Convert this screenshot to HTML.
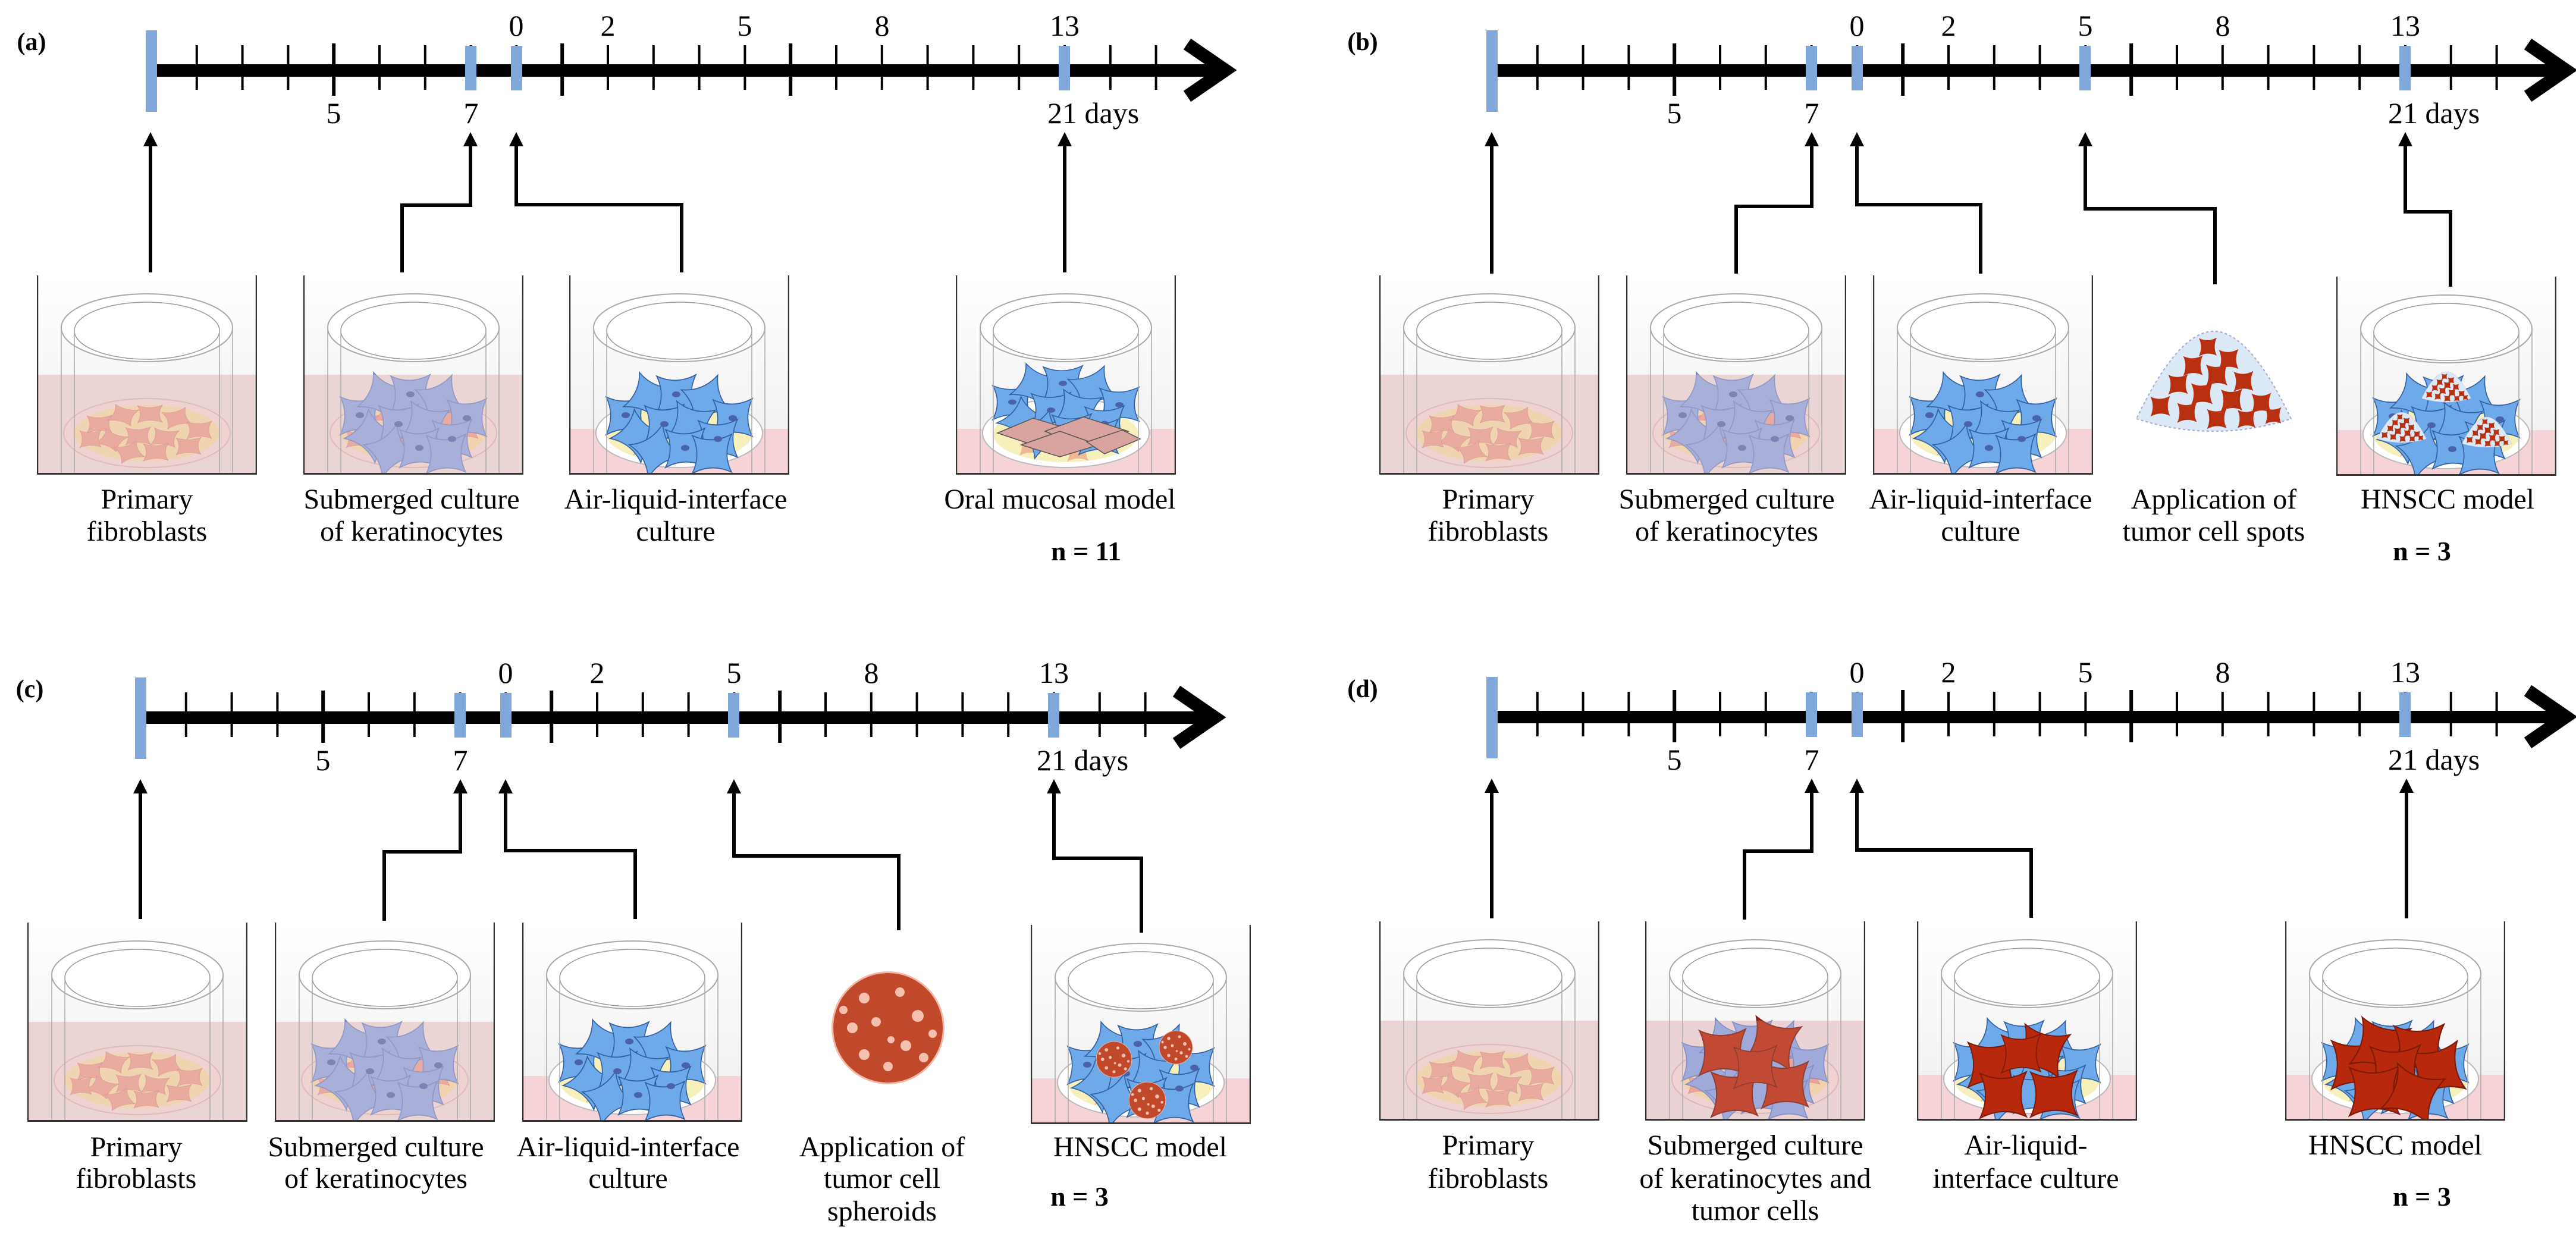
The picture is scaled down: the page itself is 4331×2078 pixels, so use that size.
<!DOCTYPE html>
<html><head><meta charset="utf-8">
<style>
html,body{margin:0;padding:0;background:#fff;}
svg{display:block;}
text{font-family:"Liberation Serif",serif;fill:#000;}
.d{font-size:50px;}
.l{font-size:48px;text-anchor:middle;}
.n{font-size:46px;font-weight:bold;text-anchor:middle;}
.p{font-size:42px;font-weight:bold;text-anchor:middle;}
</style></head>
<body>
<svg width="4331" height="2078" viewBox="0 0 4331 2078" xmlns="http://www.w3.org/2000/svg" xmlns:xlink="http://www.w3.org/1999/xlink" font-family="Liberation Serif, serif">
<defs>
<linearGradient id="bg" x1="0" y1="0" x2="0" y2="1">
<stop offset="0" stop-color="#ffffff"/><stop offset="1" stop-color="#eeeeee"/>
</linearGradient>
<path id="k" d="M-30,-28 Q0,-14 30,-30 Q16,0 30,28 Q0,14 -30,30 Q-16,0 -30,-28 Z"/>
<path id="tri" d="M0,0 L12,24 L-12,24 Z"/>

<g id="tl">
<rect x="0" y="-10" width="1790" height="21" fill="#000"/>
<polyline points="1742,-44 1806,0 1742,44" fill="none" stroke="#000" stroke-width="22" stroke-linejoin="miter"/>
<g stroke="#000" stroke-width="4">
<line x1="76.8" y1="-42" x2="76.8" y2="33"/><line x1="153.6" y1="-42" x2="153.6" y2="33"/><line x1="230.4" y1="-42" x2="230.4" y2="33"/>
<line x1="384" y1="-42" x2="384" y2="33"/><line x1="460.8" y1="-42" x2="460.8" y2="33"/><line x1="537.6" y1="-42" x2="537.6" y2="33"/><line x1="614.4" y1="-42" x2="614.4" y2="33"/>
<line x1="768" y1="-42" x2="768" y2="33"/><line x1="844.8" y1="-42" x2="844.8" y2="33"/><line x1="921.6" y1="-42" x2="921.6" y2="33"/><line x1="998.4" y1="-42" x2="998.4" y2="33"/>
<line x1="1152" y1="-42" x2="1152" y2="33"/><line x1="1228.8" y1="-42" x2="1228.8" y2="33"/><line x1="1305.6" y1="-42" x2="1305.6" y2="33"/><line x1="1382.4" y1="-42" x2="1382.4" y2="33"/><line x1="1459.2" y1="-42" x2="1459.2" y2="33"/><line x1="1536" y1="-42" x2="1536" y2="33"/><line x1="1612.8" y1="-42" x2="1612.8" y2="33"/><line x1="1689.6" y1="-42" x2="1689.6" y2="33"/>
</g>
<g stroke="#000" stroke-width="6">
<line x1="307.2" y1="-45" x2="307.2" y2="43"/><line x1="691.2" y1="-45" x2="691.2" y2="43"/><line x1="1075.2" y1="-45" x2="1075.2" y2="43"/>
</g>
<rect x="-9" y="-67" width="19" height="137" fill="#7fa7d9"/>
<rect x="528" y="-41" width="19" height="75" fill="#7fa7d9"/>
<rect x="605" y="-41" width="19" height="75" fill="#7fa7d9"/>
<rect x="1526" y="-41" width="19" height="75" fill="#7fa7d9"/>
<text class="d" x="614" y="-58" text-anchor="middle">0</text>
<text class="d" x="768" y="-58" text-anchor="middle">2</text>
<text class="d" x="998" y="-58" text-anchor="middle">5</text>
<text class="d" x="1229" y="-58" text-anchor="middle">8</text>
<text class="d" x="1536" y="-58" text-anchor="middle">13</text>
<text class="d" x="307" y="89" text-anchor="middle">5</text>
<text class="d" x="538" y="89" text-anchor="middle">7</text>
<text class="d" x="1507" y="89">21 days</text>
</g>

<g id="frameBg"><rect x="0" y="0" width="370" height="335" fill="url(#bg)"/></g>
<g id="insTop">
<ellipse cx="185" cy="88" rx="144" ry="57" fill="#fff" stroke="#aaa" stroke-width="2"/>
<ellipse cx="185" cy="93" rx="122" ry="48" fill="#fff" stroke="#999" stroke-width="1.5"/>
</g>
<g id="insLines" stroke="#aaa" stroke-width="1.5">
<line x1="41" y1="88" x2="41" y2="335"/><line x1="63" y1="93" x2="63" y2="335"/>
<line x1="307" y1="93" x2="307" y2="335"/><line x1="329" y1="88" x2="329" y2="335"/>
</g>
<g id="frameLines" stroke="#333">
<line x1="1" y1="0" x2="1" y2="335" stroke-width="2.5"/>
<line x1="369" y1="0" x2="369" y2="335" stroke-width="2.5"/>
<line x1="0" y1="334" x2="370" y2="334" stroke-width="4"/>
</g>
<g id="fibLayer">
<ellipse cx="0" cy="0" rx="140" ry="58" fill="#f0d3d0" stroke="#d9b0b0" stroke-width="2"/>
<ellipse cx="0" cy="0" rx="122" ry="47" fill="#f3d39f"/>
<g fill="#e8998a" stroke="#c77" stroke-width="1">
<use href="#k" transform="translate(-80,-15) scale(.7,.5)"/><use href="#k" transform="translate(-40,-30) scale(.7,.5) rotate(20)"/>
<use href="#k" transform="translate(5,-32) scale(.7,.5)"/><use href="#k" transform="translate(50,-25) scale(.7,.5) rotate(-15)"/>
<use href="#k" transform="translate(88,-5) scale(.7,.5)"/><use href="#k" transform="translate(-60,12) scale(.7,.5) rotate(30)"/>
<use href="#k" transform="translate(-15,5) scale(.7,.5)"/><use href="#k" transform="translate(30,8) scale(.7,.5) rotate(10)"/>
<use href="#k" transform="translate(70,22) scale(.7,.5)"/><use href="#k" transform="translate(-30,32) scale(.7,.5) rotate(-20)"/>
<use href="#k" transform="translate(15,32) scale(.7,.5)"/><use href="#k" transform="translate(-95,10) scale(.6,.5)"/>
</g>
</g>
<g id="aliDish">
<ellipse cx="0" cy="0" rx="140" ry="58" fill="#fff" stroke="#bbb" stroke-width="2"/>
<ellipse cx="0" cy="2" rx="122" ry="47" fill="#f7f0bb"/>
<g fill="#efb896"><use href="#k" transform="translate(-60,20) scale(.6)"/><use href="#k" transform="translate(20,30) scale(.6)"/><use href="#k" transform="translate(70,10) scale(.6)"/></g>
</g>
<g id="kerSet">
<use href="#k" transform="translate(-90,-30) scale(1.1)"/><use href="#k" transform="translate(-50,-60) scale(1.1) rotate(25)"/>
<use href="#k" transform="translate(-5,-65) scale(1.1)"/><use href="#k" transform="translate(45,-55) scale(1.1) rotate(-20)"/>
<use href="#k" transform="translate(90,-25) scale(1.1)"/><use href="#k" transform="translate(-70,5) scale(1.1) rotate(40)"/>
<use href="#k" transform="translate(-25,-15) scale(1.1)"/><use href="#k" transform="translate(20,-15) scale(1.1) rotate(15)"/>
<use href="#k" transform="translate(65,10) scale(1.1)"/><use href="#k" transform="translate(-40,30) scale(1.1) rotate(-30)"/>
<use href="#k" transform="translate(10,25) scale(1.1)"/><use href="#k" transform="translate(55,35) scale(1.1)"/>
</g>
<g id="nuc" fill="#4a62a8" stroke="none">
<ellipse cx="-90" cy="-30" rx="7" ry="5"/><ellipse cx="-5" cy="-65" rx="7" ry="5"/><ellipse cx="90" cy="-25" rx="7" ry="5"/>
<ellipse cx="-25" cy="-15" rx="7" ry="5"/><ellipse cx="65" cy="10" rx="7" ry="5"/><ellipse cx="10" cy="25" rx="7" ry="5"/>
</g>
<g id="spot">
<path d="M-130,140 Q0,180 130,140 Q60,0 0,0 Q-60,0 -130,140 Z" fill="#dbe8f5" stroke="#aac" stroke-width="2" stroke-dasharray="4 4"/>
<g fill="#b8300f">
<use href="#k" transform="translate(-10,25) scale(.5)"/><use href="#k" transform="translate(25,45) scale(.55)"/><use href="#k" transform="translate(-35,55) scale(.55)"/>
<use href="#k" transform="translate(5,70) scale(.6)"/><use href="#k" transform="translate(50,80) scale(.55)"/><use href="#k" transform="translate(-60,85) scale(.55)"/>
<use href="#k" transform="translate(-20,100) scale(.6)"/><use href="#k" transform="translate(30,110) scale(.6)"/><use href="#k" transform="translate(80,115) scale(.55)"/>
<use href="#k" transform="translate(-90,120) scale(.55)"/><use href="#k" transform="translate(-45,130) scale(.55)"/><use href="#k" transform="translate(5,140) scale(.55)"/>
<use href="#k" transform="translate(55,140) scale(.5)"/><use href="#k" transform="translate(100,135) scale(.45)"/>
</g>
</g>
<g id="sph">
<circle cx="0" cy="0" r="95" fill="#f2b8a8"/>
<circle cx="0" cy="0" r="92" fill="#b93515" opacity=".85"/>
<g fill="#f5c0b0">
<circle cx="-40" cy="-50" r="9"/><circle cx="20" cy="-60" r="8"/><circle cx="50" cy="-20" r="10"/><circle cx="-60" cy="0" r="9"/>
<circle cx="-20" cy="-10" r="8"/><circle cx="30" cy="30" r="9"/><circle cx="-40" cy="45" r="9"/><circle cx="60" cy="50" r="8"/>
<circle cx="0" cy="65" r="8"/><circle cx="-75" cy="-30" r="7"/><circle cx="75" cy="10" r="7"/><circle cx="5" cy="20" r="6"/>
</g>
</g>

<symbol id="wFib" viewBox="0 0 370 335" width="370" height="335">
<use href="#frameBg"/><use href="#insTop"/>
<rect x="0" y="167" width="370" height="168" fill="#ebd4d5"/>
<use href="#fibLayer" transform="translate(185,265)"/>
<rect x="0" y="167" width="370" height="168" fill="#ebd4d5" opacity=".3"/>
<use href="#insLines"/><use href="#frameLines"/>
</symbol>
<symbol id="wSub" viewBox="0 0 370 335" width="370" height="335">
<use href="#frameBg"/><use href="#insTop"/>
<rect x="0" y="167" width="370" height="168" fill="#ebd4d5"/>
<use href="#fibLayer" transform="translate(185,265)"/>
<g fill="#8c9fdb" stroke="#6a7fc0" stroke-width="1.5"><use href="#kerSet" transform="translate(185,265)"/></g>
<use href="#nuc" transform="translate(185,265)"/>
<rect x="0" y="167" width="370" height="168" fill="#ebd4d5" opacity=".3"/>
<use href="#insLines"/><use href="#frameLines"/>
</symbol>
<symbol id="wAli" viewBox="0 0 370 335" width="370" height="335">
<use href="#frameBg"/>
<rect x="0" y="258" width="370" height="77" fill="#f5d3d7"/>
<use href="#insTop"/>
<use href="#aliDish" transform="translate(185,265)"/>
<g fill="#6ea9ea" stroke="#3060a0" stroke-width="1.5"><use href="#kerSet" transform="translate(185,265)"/></g>
<use href="#nuc" transform="translate(185,265)"/>
<use href="#insLines"/><use href="#frameLines"/>
</symbol>
<symbol id="wOral" viewBox="0 0 370 335" width="370" height="335">
<use href="#frameBg"/>
<rect x="0" y="258" width="370" height="77" fill="#f5d3d7"/>
<use href="#insTop"/>
<use href="#aliDish" transform="translate(185,265)"/>
<g fill="#6ea9ea" stroke="#3060a0" stroke-width="1.5"><use href="#kerSet" transform="translate(185,240) scale(1,.9)"/></g>
<use href="#nuc" transform="translate(185,240) scale(1,.9)"/>
<g fill="#d9a39f" stroke="#555" stroke-width="1.5">
<path d="M70,265 L130,240 L190,258 L130,285 Z"/><path d="M150,262 L215,238 L290,262 L215,290 Z"/><path d="M110,285 L175,262 L240,285 L175,305 Z"/><path d="M220,280 L280,260 L310,275 L250,300 Z"/>
</g>
<use href="#insLines"/><use href="#frameLines"/>
</symbol>
<symbol id="wHnB" viewBox="0 0 370 335" width="370" height="335">
<use href="#frameBg"/>
<rect x="0" y="258" width="370" height="77" fill="#f5d3d7"/>
<use href="#insTop"/>
<use href="#aliDish" transform="translate(185,265)"/>
<g fill="#6ea9ea" stroke="#3060a0" stroke-width="1.5"><use href="#kerSet" transform="translate(185,265)"/></g>
<use href="#nuc" transform="translate(185,265)"/>
<use href="#spot" transform="translate(185,160) scale(.32)"/>
<use href="#spot" transform="translate(110,228) scale(.32)"/>
<use href="#spot" transform="translate(253,236) scale(.32)"/>
<use href="#insLines"/><use href="#frameLines"/>
</symbol>
<symbol id="wHnC" viewBox="0 0 370 335" width="370" height="335">
<use href="#frameBg"/>
<rect x="0" y="258" width="370" height="77" fill="#f5d3d7"/>
<use href="#insTop"/>
<use href="#aliDish" transform="translate(185,265)"/>
<g fill="#6ea9ea" stroke="#3060a0" stroke-width="1.5"><use href="#kerSet" transform="translate(185,265)"/></g>
<use href="#nuc" transform="translate(185,265)"/>
<use href="#sph" transform="translate(140,226) scale(.32)"/>
<use href="#sph" transform="translate(244,206) scale(.3)"/>
<use href="#sph" transform="translate(196,295) scale(.33)"/>
<use href="#insLines"/><use href="#frameLines"/>
</symbol>
<symbol id="wSubD" viewBox="0 0 370 335" width="370" height="335">
<use href="#frameBg"/><use href="#insTop"/>
<rect x="0" y="167" width="370" height="168" fill="#ebd4d5"/>
<use href="#fibLayer" transform="translate(185,265)"/>
<g fill="#8c9fdb" stroke="#6a7fc0" stroke-width="1.5"><use href="#kerSet" transform="translate(185,265)"/></g>
<g fill="#b8280c" stroke="#7a1a08" stroke-width="1.5">
<use href="#k" transform="translate(130,220) scale(1.3)"/><use href="#k" transform="translate(215,205) scale(1.3) rotate(15)"/>
<use href="#k" transform="translate(150,290) scale(1.3)"/><use href="#k" transform="translate(235,275) scale(1.3)"/><use href="#k" transform="translate(185,245) scale(1.2)"/>
</g>
<rect x="0" y="167" width="370" height="168" fill="#ebd4d5" opacity=".2"/>
<use href="#insLines"/><use href="#frameLines"/>
</symbol>
<symbol id="wAliD" viewBox="0 0 370 335" width="370" height="335">
<use href="#frameBg"/>
<rect x="0" y="258" width="370" height="77" fill="#f5d3d7"/>
<use href="#insTop"/>
<use href="#aliDish" transform="translate(185,265)"/>
<g fill="#6ea9ea" stroke="#3060a0" stroke-width="1.5"><use href="#kerSet" transform="translate(185,265)"/></g>
<g fill="#b8280c" stroke="#7a1a08" stroke-width="1.5">
<use href="#k" transform="translate(125,240) scale(1.3)"/><use href="#k" transform="translate(210,218) scale(1.3) rotate(15)"/>
<use href="#k" transform="translate(145,292) scale(1.3)"/><use href="#k" transform="translate(230,290) scale(1.3)"/><use href="#k" transform="translate(175,222) scale(1.1)"/>
</g>
<use href="#insLines"/><use href="#frameLines"/>
</symbol>
<symbol id="wHnD" viewBox="0 0 370 335" width="370" height="335">
<use href="#frameBg"/>
<rect x="0" y="258" width="370" height="77" fill="#f5d3d7"/>
<use href="#insTop"/>
<use href="#aliDish" transform="translate(185,265)"/>
<g fill="#6ea9ea" stroke="#3060a0" stroke-width="1.5"><use href="#kerSet" transform="translate(185,265)"/></g>
<g fill="#b8280c" stroke="#7a1a08" stroke-width="1.5">
<use href="#k" transform="translate(120,240) scale(1.4)"/><use href="#k" transform="translate(160,210) scale(1.4) rotate(15)"/>
<use href="#k" transform="translate(225,215) scale(1.4)"/><use href="#k" transform="translate(255,250) scale(1.4) rotate(-10)"/>
<use href="#k" transform="translate(185,250) scale(1.4)"/><use href="#k" transform="translate(150,285) scale(1.4)"/>
<use href="#k" transform="translate(215,290) scale(1.4) rotate(20)"/>
</g>
<use href="#insLines"/><use href="#frameLines"/>
</symbol>
</defs>

<text class="p" x="53" y="84">(a)</text>
<use href="#tl" transform="translate(254,118)"/>
<use href="#wFib" x="62" y="463"/>
<use href="#wSub" x="510" y="463"/>
<use href="#wAli" x="957" y="463"/>
<use href="#wOral" x="1607" y="463"/>
<g fill="none" stroke="#000" stroke-width="6">
<path d="M253,458 V244"/>
<path d="M676,458 V345 H791 V244"/>
<path d="M1146,458 V344 H868 V244"/>
<path d="M1790,458 V244"/>
</g>
<g fill="#000">
<use href="#tri" x="253" y="222"/><use href="#tri" x="791" y="222"/><use href="#tri" x="868" y="222"/><use href="#tri" x="1790" y="222"/>
</g>
<text class="l" x="247" y="855">Primary</text><text class="l" x="247" y="909">fibroblasts</text>
<text class="l" x="692" y="855">Submerged culture</text><text class="l" x="692" y="909">of keratinocytes</text>
<text class="l" x="1136" y="855">Air-liquid-interface</text><text class="l" x="1136" y="909">culture</text>
<text class="l" x="1782" y="855">Oral mucosal model</text>
<text class="n" x="1826" y="942">n = 11</text>

<text class="p" x="2291" y="84">(b)</text>
<use href="#tl" transform="translate(2508,118)"/>
<rect x="3496" y="77" width="19" height="75" fill="#7fa7d9"/>
<use href="#wFib" x="2319" y="463"/>
<use href="#wSub" x="2734" y="463"/>
<use href="#wAli" x="3149" y="463"/>
<use href="#spot" transform="translate(3722,557) scale(1,1.05)"/>
<use href="#wHnB" x="3928" y="465"/>
<g fill="none" stroke="#000" stroke-width="6">
<path d="M2508,460 V244"/>
<path d="M2919,460 V347 H3046 V244"/>
<path d="M3330,460 V344 H3122 V244"/>
<path d="M3724,478 V351 H3506 V244"/>
<path d="M4120,482 V356 H4044 V244"/>
</g>
<g fill="#000">
<use href="#tri" x="2508" y="222"/><use href="#tri" x="3046" y="222"/><use href="#tri" x="3122" y="222"/><use href="#tri" x="3506" y="222"/><use href="#tri" x="4044" y="222"/>
</g>
<text class="l" x="2502" y="855">Primary</text><text class="l" x="2502" y="909">fibroblasts</text>
<text class="l" x="2903" y="855">Submerged culture</text><text class="l" x="2903" y="909">of keratinocytes</text>
<text class="l" x="3330" y="855">Air-liquid-interface</text><text class="l" x="3330" y="909">culture</text>
<text class="l" x="3722" y="855">Application of</text><text class="l" x="3722" y="909">tumor cell spots</text>
<text class="l" x="4115" y="855">HNSCC model</text>
<text class="n" x="4072" y="942">n = 3</text>

<text class="p" x="50" y="1172">(c)</text>
<use href="#tl" transform="translate(236,1206)"/>
<rect x="1224" y="1165" width="19" height="75" fill="#7fa7d9"/>
<use href="#wFib" x="46" y="1551"/>
<use href="#wSub" x="462" y="1551"/>
<use href="#wAli" x="878" y="1551"/>
<use href="#sph" transform="translate(1493,1728)"/>
<use href="#wHnC" x="1733" y="1555"/>
<g fill="none" stroke="#000" stroke-width="6">
<path d="M236,1545 V1332"/>
<path d="M646,1548 V1432 H774 V1332"/>
<path d="M1068,1545 V1430 H850 V1332"/>
<path d="M1511,1564 V1439 H1234 V1332"/>
<path d="M1919,1568 V1443 H1772 V1332"/>
</g>
<g fill="#000">
<use href="#tri" x="236" y="1310"/><use href="#tri" x="774" y="1310"/><use href="#tri" x="850" y="1310"/><use href="#tri" x="1234" y="1310"/><use href="#tri" x="1772" y="1310"/>
</g>
<text class="l" x="229" y="1944">Primary</text><text class="l" x="229" y="1997">fibroblasts</text>
<text class="l" x="632" y="1944">Submerged culture</text><text class="l" x="632" y="1997">of keratinocytes</text>
<text class="l" x="1056" y="1944">Air-liquid-interface</text><text class="l" x="1056" y="1997">culture</text>
<text class="l" x="1483" y="1944">Application of</text><text class="l" x="1483" y="1997">tumor cell</text><text class="l" x="1483" y="2052">spheroids</text>
<text class="l" x="1917" y="1944">HNSCC model</text>
<text class="n" x="1815" y="2027">n = 3</text>

<text class="p" x="2291" y="1172">(d)</text>
<use href="#tl" transform="translate(2508,1205)"/>
<use href="#wFib" x="2319" y="1549"/>
<use href="#wSubD" x="2766" y="1549"/>
<use href="#wAliD" x="3223" y="1549"/>
<use href="#wHnD" x="3842" y="1549"/>
<g fill="none" stroke="#000" stroke-width="6">
<path d="M2508,1544 V1331"/>
<path d="M2933,1546 V1431 H3046 V1331"/>
<path d="M3415,1543 V1429 H3122 V1331"/>
<path d="M4046,1544 V1331"/>
</g>
<g fill="#000">
<use href="#tri" x="2508" y="1309"/><use href="#tri" x="3046" y="1309"/><use href="#tri" x="3122" y="1309"/><use href="#tri" x="4046" y="1309"/>
</g>
<text class="l" x="2502" y="1941">Primary</text><text class="l" x="2502" y="1997">fibroblasts</text>
<text class="l" x="2951" y="1941">Submerged culture</text><text class="l" x="2951" y="1997">of keratinocytes and</text><text class="l" x="2951" y="2051">tumor cells</text>
<text class="l" x="3406" y="1941">Air-liquid-</text><text class="l" x="3406" y="1997">interface culture</text>
<text class="l" x="4027" y="1941">HNSCC model</text>
<text class="n" x="4072" y="2027">n = 3</text>
</svg>
</body></html>
